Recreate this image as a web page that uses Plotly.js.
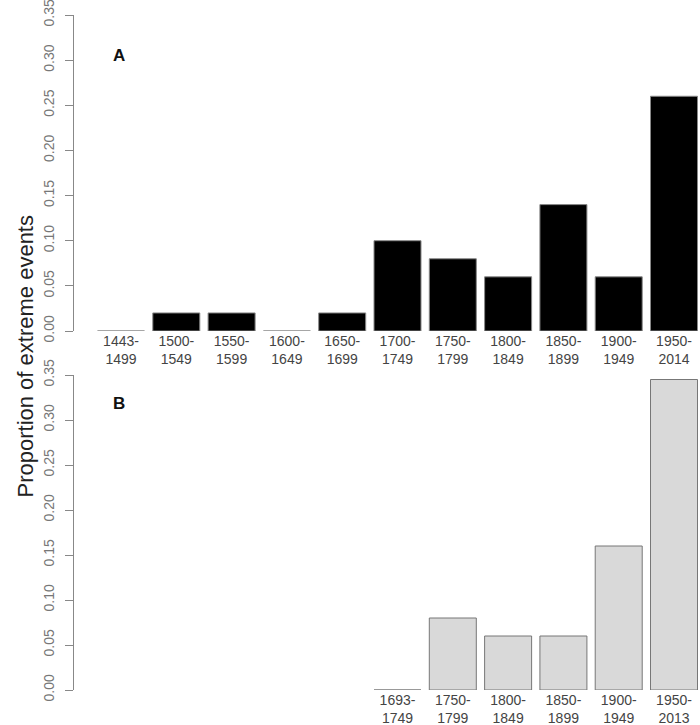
<!DOCTYPE html>
<html>
<head>
<meta charset="utf-8">
<script src="https://cdn.plot.ly/plotly-3.0.1.min.js"></script>
<style>
  body { margin: 0; background: #fff; }
  #plot { width: 700px; height: 725px; }
</style>
</head>
<body>
<div id="plot"></div>
<script>
// Panel A: periods and proportion of extreme events
var periodsA = ['1443-<br>1499', '1500-<br>1549', '1550-<br>1599', '1600-<br>1649', '1650-<br>1699',
    '1700-<br>1749', '1750-<br>1799', '1800-<br>1849', '1850-<br>1899', '1900-<br>1949', '1950-<br>2014']
var valuesA = [0, 0.02, 0.02, 0, 0.02, 0.10, 0.08, 0.06, 0.14, 0.06, 0.26]

// Panel B
var periodsB = ['1693-<br>1749', '1750-<br>1799', '1800-<br>1849', '1850-<br>1899', '1900-<br>1949', '1950-<br>2013']
var valuesB = [0, 0.08, 0.06, 0.06, 0.16, 0.345]

// B shares the slot grid of A, first slots stay empty
var emptySlots = ['\u2002', '\u2002\u2002', '\u2002\u2002\u2002', '\u2002\u2002\u2002\u2002', '\u2002\u2002\u2002\u2002\u2002']

var font = 'Liberation Sans, Arial, sans-serif'
var H = 725

function yax(top, bottom, anchor) {
    return {
        domain: [1 - bottom / H, 1 - top / H],
        range: [0, 0.35],
        tickvals: [0, 0.05, 0.1, 0.15, 0.2, 0.25, 0.3, 0.35],
        tickformat: '.2f',
        tickangle: -90,
        ticks: 'outside',
        ticklen: 8,
        tickcolor: '#888',
        ticklabelstandoff: 5,
        ticklabeloverflow: 'allow',
        showline: true,
        linecolor: '#888',
        linewidth: 1,
        showgrid: false,
        zeroline: false,
        tickfont: { family: font, size: 14, color: '#777' },
        anchor: anchor,
        fixedrange: true,
    }
}

function xax(cats, anchor) {
    return {
        type: 'category',
        categoryorder: 'array',
        categoryarray: cats,
        domain: [74 / 700, 1],
        range: [-0.85, 10.47],
        showline: false,
        showgrid: false,
        zeroline: false,
        ticks: '',
        ticklabeloverflow: 'allow',
        tickfont: { family: font, size: 14, color: '#444' },
        anchor: anchor,
        fixedrange: true,
    }
}

var data = [
    {
        type: 'bar',
        x: periodsA,
        y: valuesA,
        width: 0.85,
        marker: { color: '#000', line: { color: '#888', width: 1 } },
        xaxis: 'x',
        yaxis: 'y',
    },
    {
        type: 'bar',
        x: periodsB,
        y: valuesB,
        width: 0.85,
        marker: { color: '#d9d9d9', line: { color: '#777', width: 1 } },
        xaxis: 'x2',
        yaxis: 'y2',
    }
]

var layout = {
    width: 700,
    height: 725,
    margin: { l: 0, r: 0, t: 0, b: 0 },
    paper_bgcolor: '#fff',
    plot_bgcolor: '#fff',
    showlegend: false,
    font: { family: font },
    xaxis: xax(periodsA, 'y'),
    yaxis: yax(15, 331, 'x'),
    xaxis2: xax(emptySlots.concat(periodsB), 'y2'),
    yaxis2: yax(375, 690, 'x2'),
    annotations: [
        {
            text: 'Proportion of extreme events',
            xref: 'paper', yref: 'paper',
            x: 10 / 700, y: 1 - 357 / H,
            textangle: -90,
            showarrow: false,
            font: { family: font, size: 22, color: '#222' },
        },
        {
            text: '<b>A</b>',
            xref: 'paper', yref: 'paper',
            x: 111 / 700, y: 1 - 44 / H,
            showarrow: false,
            font: { family: font, size: 17, color: '#111' },
        },
        {
            text: '<b>B</b>',
            xref: 'paper', yref: 'paper',
            x: 111 / 700, y: 1 - 403 / H,
            showarrow: false,
            font: { family: font, size: 17, color: '#111' },
        }
    ]
}

Plotly.newPlot('plot', data, layout, { displayModeBar: false, staticPlot: true })
</script>
</body>
</html>
